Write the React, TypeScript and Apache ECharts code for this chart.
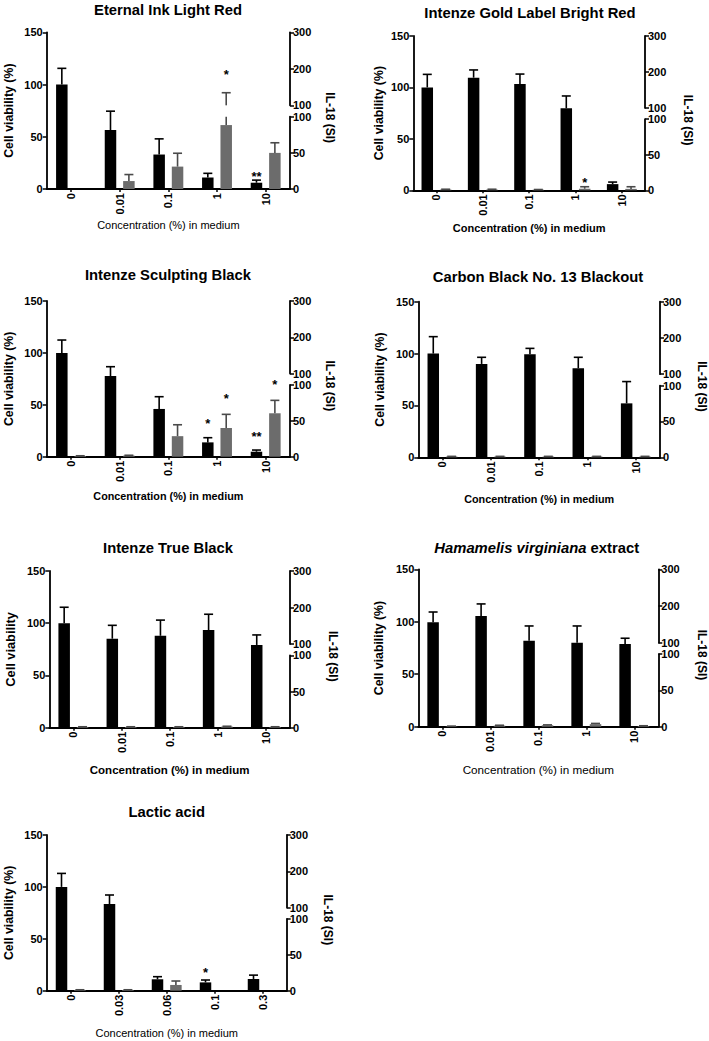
import React, { useEffect, useRef } from 'react';
import * as echarts from 'echarts';

const FONT = 'Liberation Sans, Arial, Helvetica, sans-serif';

// ---------- categories ----------
const concStd = ['0', '0.01', '0.1', '1', '10'];
const concLactic = ['0', '0.03', '0.06', '0.1', '0.3'];

// ---------- Eternal Ink Light Red ----------
const eternalViab = [100, 56.5, 33, 11, 6];
const eternalViabErr = [15.5, 18, 15, 4, 2.5];
const eternalViabSig = ['', '', '', '', '**'];
const eternalIL18 = [0, 11, 31, 88.5, 50];
const eternalIL18Err = [0, 9, 18.5, 46, 14];
const eternalIL18Sig = ['', '', '', '*', ''];

// ---------- Intenze Gold Label Bright Red ----------
const goldViab = [100, 109.5, 103.3, 79.7, 6];
const goldViabErr = [12.7, 7.5, 9.7, 12, 2];
const goldViabSig = ['', '', '', '', ''];
const goldIL18 = [1, 1, 0.8, 2.2, 2];
const goldIL18Err = [0.5, 0.5, 0.3, 2.8, 3];
const goldIL18Sig = ['', '', '', '*', ''];

// ---------- Intenze Sculpting Black ----------
const sculptViab = [100, 77.7, 46, 13.8, 4.8];
const sculptViabErr = [12.4, 9, 11.8, 4.5, 1.6];
const sculptViabSig = ['', '', '', '*', '**'];
const sculptIL18 = [1, 1.5, 28.6, 40, 60.5];
const sculptIL18Err = [0.3, 0.5, 15.9, 19, 18];
const sculptIL18Sig = ['', '', '', '*', '*'];

// ---------- Carbon Black No. 13 Blackout ----------
const carbonViab = [100, 90, 99.3, 85.8, 52];
const carbonViabErr = [16.3, 6.4, 5.7, 10.6, 21];
const carbonViabSig = ['', '', '', '', ''];
const carbonIL18 = [1, 1, 1, 1, 1];
const carbonIL18Err = [0.3, 0.3, 0.3, 0.3, 0.3];
const carbonIL18Sig = ['', '', '', '', ''];

// ---------- Intenze True Black ----------
const trueViab = [100, 85.2, 88, 93.5, 79.2];
const trueViabErr = [15.3, 12.8, 15, 15.1, 9.6];
const trueViabSig = ['', '', '', '', ''];
const trueIL18 = [1, 1, 1, 1.5, 1];
const trueIL18Err = [0.3, 0.3, 0.3, 0.5, 0.3];
const trueIL18Sig = ['', '', '', '', ''];

// ---------- Hamamelis virginiana extract ----------
const hamaViab = [99.5, 105.5, 82, 80, 78.8];
const hamaViabErr = [9.8, 11.5, 14, 16, 5.5];
const hamaViabSig = ['', '', '', '', ''];
const hamaIL18 = [0.5, 1.5, 2, 3.5, 1];
const hamaIL18Err = [0.3, 0.5, 0.5, 1, 0.3];
const hamaIL18Sig = ['', '', '', '', ''];

// ---------- Lactic acid ----------
const lacticViab = [100, 83.5, 11, 8, 11.3];
const lacticViabErr = [13, 8.7, 2.5, 2.3, 3.7];
const lacticViabSig = ['', '', '', '*', ''];
const lacticIL18 = [1, 1, 8, 0, 0];
const lacticIL18Err = [0.3, 0.3, 5.5, 0, 0];
const lacticIL18Sig = ['', '', '', '', ''];

// ---------- axis ticks ----------
const viabTicks = { min: 0, max: 150, interval: 50 };
const il18LowTicks = { min: 0, max: 100, interval: 50 };
const il18HighTicks = { min: 100, max: 300, interval: 100 };

const TITLES = [
  'Eternal Ink Light Red',
  'Intenze Gold Label Bright Red',
  'Intenze Sculpting Black',
  'Carbon Black No. 13 Blackout',
  'Intenze True Black',
  '{i|Hamamelis virginiana} extract',
  'Lactic acid',
];
const LEFT_NAMES = [
  'Cell viability (%)', 'Cell viability (%)', 'Cell viability (%)', 'Cell viability (%)',
  'Cell viability', 'Cell viability (%)', 'Cell viability (%)',
];
const X_NAME = 'Concentration (%) in medium';
const RIGHT_NAME = 'IL-18 (SI)';

const PANELS = [
  { cats: concStd, viab: eternalViab, viabErr: eternalViabErr, viabSig: eternalViabSig, il: eternalIL18, ilErr: eternalIL18Err, ilSig: eternalIL18Sig },
  { cats: concStd, viab: goldViab, viabErr: goldViabErr, viabSig: goldViabSig, il: goldIL18, ilErr: goldIL18Err, ilSig: goldIL18Sig },
  { cats: concStd, viab: sculptViab, viabErr: sculptViabErr, viabSig: sculptViabSig, il: sculptIL18, ilErr: sculptIL18Err, ilSig: sculptIL18Sig },
  { cats: concStd, viab: carbonViab, viabErr: carbonViabErr, viabSig: carbonViabSig, il: carbonIL18, ilErr: carbonIL18Err, ilSig: carbonIL18Sig },
  { cats: concStd, viab: trueViab, viabErr: trueViabErr, viabSig: trueViabSig, il: trueIL18, ilErr: trueIL18Err, ilSig: trueIL18Sig },
  { cats: concStd, viab: hamaViab, viabErr: hamaViabErr, viabSig: hamaViabSig, il: hamaIL18, ilErr: hamaIL18Err, ilSig: hamaIL18Sig },
  { cats: concLactic, viab: lacticViab, viabErr: lacticViabErr, viabSig: lacticViabSig, il: lacticIL18, ilErr: lacticIL18Err, ilSig: lacticIL18Sig },
];

// ---------- layout (pixels) ----------
// sgB / sgG: distance from error-bar cap to the centre of the significance marker
const LAYOUT = [
  { left: 46.7, right: 290, top: 32.3, bottom: 189, tx: 168, ty: 9.5, xGap: 30, lGap: 31.5, rGap: 33.5, xBold: false, xSize: 11, lSize: 12.3, sgB: 7, sgG: 21 },
  { left: 413.3, right: 645, top: 36, bottom: 190.3, tx: 530, ty: 13.3, xGap: 32, lGap: 28.5, rGap: 37, xBold: true, xSize: 11, lSize: 12.3, sgB: 7, sgG: 7 },
  { left: 46.7, right: 290, top: 301, bottom: 456.7, tx: 168, ty: 275, xGap: 34, lGap: 31.5, rGap: 33.5, xBold: true, xSize: 10.8, lSize: 12.3, sgB: 17, sgG: 19 },
  { left: 418.3, right: 660, top: 301.7, bottom: 457.3, tx: 538, ty: 277, xGap: 36, lGap: 32, rGap: 35.5, xBold: true, xSize: 10.8, lSize: 12.3, sgB: 10, sgG: 10 },
  { left: 49.3, right: 290, top: 571, bottom: 727.7, tx: 168, ty: 547.5, xGap: 36, lGap: 32.5, rGap: 37, xBold: true, xSize: 11.5, lSize: 12.8, sgB: 10, sgG: 10 },
  { left: 418.3, right: 658.3, top: 569.3, bottom: 726.7, tx: 536.7, ty: 547.5, xGap: 37, lGap: 33.5, rGap: 37.5, xBold: false, xSize: 11.7, lSize: 12.3, sgB: 10, sgG: 10 },
  { left: 46.7, right: 286.7, top: 835, bottom: 990.7, tx: 166.7, ty: 812, xGap: 36.5, lGap: 31.5, rGap: 35.5, xBold: false, xSize: 11, lSize: 12.3, sgB: 11, sgG: 11 },
];

const BLACK = '#000000';
const GRAY = '#6c6c6c';
const GRAY_ERR = '#4a4a4a';
const BAR_W = 11.5;
const BAR_GAP = '60%';
const OFFSET = (BAR_W * 1.6) / 2;
const CAP = 4.5;
const AXIS_W = 1.8;
const LOW_FRAC = 0.461;
const UP_FRAC = 0.466;
const TITLE_SIZE = 14.8;

function errRender(sigs: string[], offset: number, color: string, lowLimit: number | null, highLimit: number | null, sigGap: number) {
  return (params: any, api: any) => {
    const i = params.dataIndex;
    const xi = api.value(0);
    const v = api.value(1);
    const e = api.value(2);
    const topV = v + e;
    const children: any[] = [];
    let from = v;
    let to = topV;
    let drawCap = true;
    if (highLimit !== null && topV > highLimit) { to = highLimit; drawCap = false; }
    if (lowLimit !== null) {
      if (topV <= lowLimit) return { type: 'group', children: [] };
      from = Math.max(v, lowLimit);
    }
    const p0 = api.coord([xi, from]);
    const p1 = api.coord([xi, to]);
    const cx = p0[0] + offset;
    if (e > 0) {
      children.push({ type: 'line', shape: { x1: cx, y1: p0[1], x2: cx, y2: p1[1] }, style: { stroke: color, lineWidth: 1.6 } });
      if (drawCap) {
        children.push({ type: 'line', shape: { x1: cx - CAP, y1: p1[1], x2: cx + CAP, y2: p1[1] }, style: { stroke: color, lineWidth: 1.6 } });
      }
    }
    if (drawCap && sigs[i]) {
      children.push({
        type: 'text', x: cx, y: p1[1] - sigGap + 3,
        style: { text: sigs[i], align: 'center', verticalAlign: 'middle', fontSize: 13, fontWeight: 'bold', fontFamily: FONT, fill: '#000' },
      });
    }
    return { type: 'group', children };
  };
}

function buildOption() {
  const grid: any[] = [];
  const xAxis: any[] = [];
  const yAxis: any[] = [];
  const series: any[] = [];
  const graphic: any[] = [];

  const lineStyle = { color: '#000', width: AXIS_W };
  const tickLabel = { color: '#000', fontSize: 11, fontWeight: 'bold', fontFamily: FONT };

  PANELS.forEach((p, k) => {
    const L = LAYOUT[k];
    const H = L.bottom - L.top;
    const W = L.right - L.left;
    const lowH = H * LOW_FRAC;
    const upH = H * UP_FRAC;
    const g = grid.length;
    grid.push({ left: L.left, top: L.top, width: W, height: H });
    grid.push({ left: L.left, top: L.bottom - lowH, width: W, height: lowH });
    grid.push({ left: L.left, top: L.top, width: W, height: upH });

    const xi = xAxis.length;
    xAxis.push({
      gridIndex: g, type: 'category', data: p.cats, boundaryGap: true,
      axisLine: { show: true, lineStyle },
      axisTick: { show: true, alignWithLabel: true, length: 3, lineStyle: { color: '#000', width: 1.5 } },
      axisLabel: { ...tickLabel, rotate: 90, margin: 4, interval: 0 },
      splitLine: { show: false },
      name: X_NAME, nameLocation: 'middle', nameGap: L.xGap,
      nameTextStyle: { color: '#000', fontSize: L.xSize, fontWeight: L.xBold ? 'bold' : 'normal', fontFamily: FONT },
    });
    xAxis.push({ gridIndex: g + 1, type: 'category', data: p.cats, show: false });
    xAxis.push({ gridIndex: g + 2, type: 'category', data: p.cats, show: false });

    const yi = yAxis.length;
    yAxis.push({
      gridIndex: g, type: 'value', position: 'left', ...viabTicks,
      axisLine: { show: true, lineStyle },
      axisTick: { show: true, length: 4, lineStyle: { color: '#000', width: 1.5 } },
      axisLabel: { ...tickLabel, margin: 4 },
      splitLine: { show: false },
      name: LEFT_NAMES[k], nameLocation: 'middle', nameGap: L.lGap,
      nameTextStyle: { color: '#000', fontSize: L.lSize, fontWeight: 'bold', fontFamily: FONT },
    });
    yAxis.push({
      gridIndex: g, type: 'value', position: 'right', min: 0, max: 1,
      axisLine: { show: false }, axisTick: { show: false }, axisLabel: { show: false }, splitLine: { show: false },
      name: RIGHT_NAME, nameLocation: 'middle', nameRotate: -90, nameGap: L.rGap,
      nameTextStyle: { color: '#000', fontSize: 12, fontWeight: 'bold', fontFamily: FONT, padding: [0, 0, 0, 14] },
    });
    yAxis.push({
      gridIndex: g + 1, type: 'value', position: 'right', ...il18LowTicks,
      axisLine: { show: true, lineStyle },
      axisTick: { show: true, length: 4, lineStyle: { color: '#000', width: 1.5 } },
      axisLabel: { ...tickLabel, margin: 3 },
      splitLine: { show: false },
    });
    yAxis.push({
      gridIndex: g + 2, type: 'value', position: 'right', ...il18HighTicks,
      axisLine: { show: true, lineStyle },
      axisTick: { show: true, length: 4, lineStyle: { color: '#000', width: 1.5 } },
      axisLabel: { ...tickLabel, margin: 3 },
      splitLine: { show: false },
    });

    const blank = p.cats.map(() => 0);
    series.push({
      type: 'bar', xAxisIndex: xi, yAxisIndex: yi, data: p.viab, barWidth: BAR_W, barGap: BAR_GAP,
      itemStyle: { color: BLACK }, silent: true,
    });
    series.push({
      type: 'bar', xAxisIndex: xi, yAxisIndex: yi, data: blank, barWidth: BAR_W, barGap: BAR_GAP,
      itemStyle: { color: 'rgba(0,0,0,0)' }, silent: true,
    });
    series.push({
      type: 'bar', xAxisIndex: xi + 1, yAxisIndex: yi + 2, data: blank, barWidth: BAR_W, barGap: BAR_GAP,
      itemStyle: { color: 'rgba(0,0,0,0)' }, silent: true,
    });
    series.push({
      type: 'bar', xAxisIndex: xi + 1, yAxisIndex: yi + 2, data: p.il, barWidth: BAR_W, barGap: BAR_GAP,
      itemStyle: { color: GRAY }, silent: true,
    });
    series.push({
      type: 'custom', xAxisIndex: xi, yAxisIndex: yi, silent: true, z: 5,
      data: p.viab.map((v, i) => [i, v, p.viabErr[i]]), encode: { x: 0, y: 1 },
      renderItem: errRender(p.viabSig, -OFFSET, BLACK, null, null, L.sgB),
    });
    series.push({
      type: 'custom', xAxisIndex: xi + 1, yAxisIndex: yi + 2, silent: true, z: 5,
      data: p.il.map((v, i) => [i, v, p.ilErr[i]]), encode: { x: 0, y: 1 },
      renderItem: errRender(p.ilSig, OFFSET, GRAY_ERR, null, 100, L.sgG),
    });
    series.push({
      type: 'custom', xAxisIndex: xi + 2, yAxisIndex: yi + 3, silent: true, z: 5,
      data: p.il.map((v, i) => [i, v, p.ilErr[i]]), encode: { x: 0, y: 1 },
      renderItem: errRender(p.ilSig, OFFSET, GRAY_ERR, 100, null, L.sgG),
    });

    graphic.push({
      type: 'text', x: L.tx, y: L.ty, silent: true,
      style: {
        text: TITLES[k], align: 'center', verticalAlign: 'middle',
        fontSize: TITLE_SIZE, fontWeight: 'bold', fontFamily: FONT, fill: '#000',
        rich: { i: { fontStyle: 'italic', fontWeight: 'bold', fontSize: TITLE_SIZE, fontFamily: FONT, fill: '#000' } },
      },
    });
  });

  return {
    animation: false,
    backgroundColor: '#ffffff',
    grid, xAxis, yAxis, series, graphic,
  };
}

export default function App() {
  const ref = useRef<HTMLDivElement>(null);
  useEffect(() => {
    if (!ref.current) return;
    const chart = echarts.init(ref.current, undefined, { renderer: 'svg' });
    chart.setOption(buildOption());
    return () => chart.dispose();
  }, []);
  return (
    <div
      ref={ref}
      style={{ position: 'absolute', left: 0, top: 0, width: 709, height: 1041, background: '#fff' }}
    />
  );
}
